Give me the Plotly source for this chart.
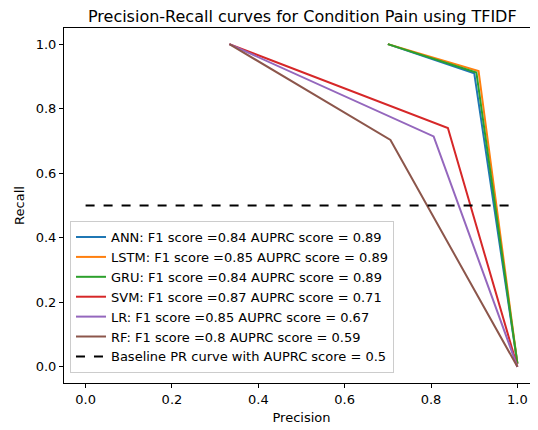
import plotly.graph_objects as go

# precision / recall points
models = ["ANN", "LSTM", "GRU", "SVM", "LR", "RF"]
f1_scores = ["0.84", "0.85", "0.84", "0.87", "0.85", "0.8"]
auprc_scores = ["0.89", "0.89", "0.89", "0.71", "0.67", "0.59"]
precision = [
    [0.70, 0.90, 1.0],
    [0.70, 0.91, 1.0],
    [0.70, 0.905, 1.0],
    [0.333, 0.839, 1.0],
    [0.333, 0.806, 1.0],
    [0.333, 0.706, 1.0],
]
recall = [
    [1.0, 0.91, 0.01],
    [1.0, 0.917, 0.01],
    [1.0, 0.912, 0.01],
    [1.0, 0.74, 0.0],
    [1.0, 0.714, 0.0],
    [1.0, 0.703, 0.0],
]
colors = ["#1f77b4", "#ff7f0e", "#2ca02c", "#d62728", "#9467bd", "#8c564b"]
baseline_x = [0.0, 1.0]
baseline_y = [0.5, 0.5]

fig = go.Figure()
for name, f1, au, p, r, c in zip(models, f1_scores, auprc_scores, precision, recall, colors):
    fig.add_trace(go.Scatter(
        x=p, y=r, mode="lines",
        line=dict(color=c, width=2),
        name=f"{name}: F1 score ={f1} AUPRC score = {au}",
    ))
fig.add_trace(go.Scatter(
    x=baseline_x, y=baseline_y, mode="lines",
    line=dict(color="black", width=2, dash="dash"),
    name="Baseline PR curve with AUPRC score = 0.5",
))

axis_style = dict(
    showgrid=False, zeroline=False, automargin=False,
    showline=True, linecolor="black", linewidth=1, mirror=True,
    ticks="outside", ticklen=4, tickcolor="black",
    tickfont=dict(size=13, color="black"),
)
# page body has an 8px margin, so the margins below are shifted by it
fig.update_layout(
    width=538, height=430,
    margin=dict(l=56, r=7, t=20, b=55),
    paper_bgcolor="white", plot_bgcolor="white",
    font=dict(family="DejaVu Sans", color="black"),
    title=dict(text="Precision-Recall curves for Condition Pain using TFIDF",
               x=0.547, xanchor="center", y=0.98, yanchor="middle",
               font=dict(size=16, color="black")),
    xaxis=dict(range=[-0.05, 1.05], tickvals=[0, 0.2, 0.4, 0.6, 0.8, 1.0],
               ticktext=["0.0", "0.2", "0.4", "0.6", "0.8", "1.0"],
               title=dict(text="Precision", font=dict(size=13), standoff=7), **axis_style),
    yaxis=dict(range=[-0.05, 1.05], tickvals=[0, 0.2, 0.4, 0.6, 0.8, 1.0],
               ticktext=["0.0", "0.2", "0.4", "0.6", "0.8", "1.0"],
               title=dict(text="Recall", font=dict(size=13), standoff=8), **axis_style),
    legend=dict(x=0.0126, y=0.028, xanchor="left", yanchor="bottom",
                bgcolor="rgba(255,255,255,0.8)", bordercolor="#cccccc", borderwidth=1,
                font=dict(size=13), tracegroupgap=0),
    showlegend=True,
)
fig.write_html("out.html")
